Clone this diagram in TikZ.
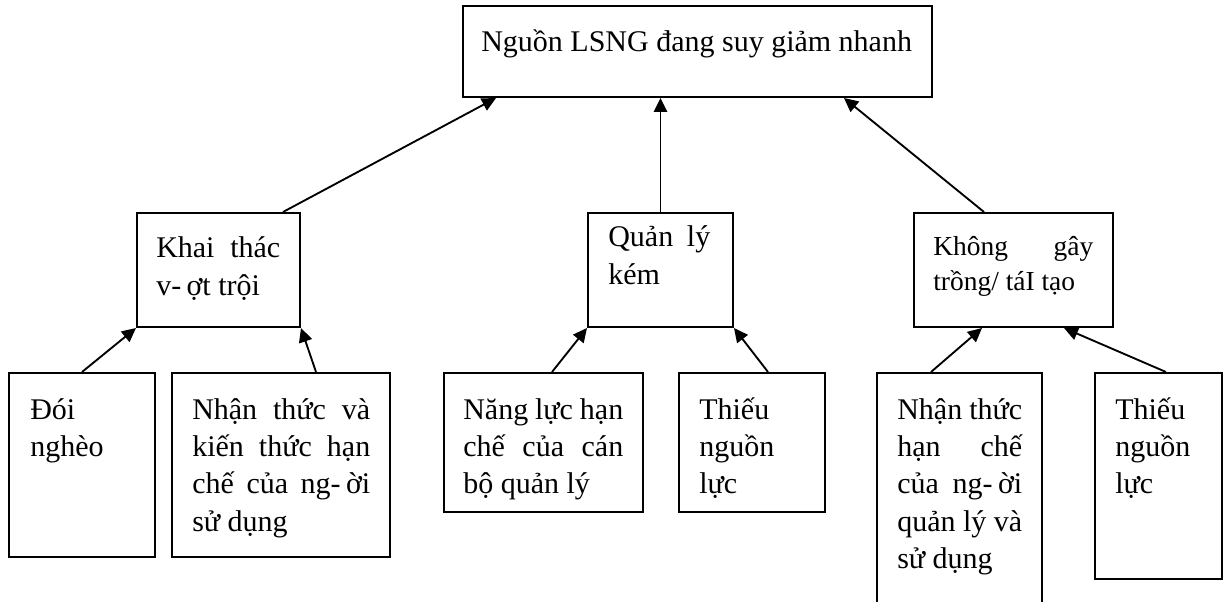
\documentclass[tikz,border=0pt]{standalone}
\usepackage{fontspec}
\setmainfont{Liberation Serif}
\usetikzlibrary{arrows.meta,fit}
\newcommand{\mlines}[1]{\vtop{\baselineskip=28.1pt\lineskiplimit=-100pt\lineskip=0pt #1}}
\newcommand{\mlinesS}[1]{\vtop{\baselineskip=26.25pt\lineskiplimit=-100pt\lineskip=0pt #1}}
\newcommand{\spline}[2]{\hbox{\makebox[#1][s]{#2}}}
\newcommand{\oneline}[1]{\hbox{#1}}
\begin{document}
\begin{tikzpicture}[x=0.75pt,y=-0.75pt,
  box/.style={draw=black,line width=1.5pt,inner sep=0pt,fill=none},
  txt/.style={anchor=base west,inner sep=0pt,font=\fontsize{22.5}{28.1}\selectfont},
  txts/.style={anchor=base west,inner sep=0pt,font=\fontsize{20.6}{26.25}\selectfont},
  arr/.style={line width=1.4pt,-{Triangle[length=10.5pt,width=10pt]}}]
\useasboundingbox (0,0) rectangle (1225,602);
\clip (0,0) rectangle (1225,602);
\fill[white] (0,0) rectangle (1225,602);
% boxes
\node[box,fit={(463,6) (932,97)}] (top) {};
\node[box,fit={(137,213) (300,327)}] (khai) {};
\node[box,fit={(588,213) (733,327)}] (quan) {};
\node[box,fit={(914,213) (1113,327)}] (khong) {};
\node[box,fit={(9,373) (155,557)}] (doi) {};
\node[box,fit={(172,373) (390,557)}] (nhanL) {};
\node[box,fit={(444,373) (643,512)}] (nang) {};
\node[box,fit={(679,373) (825,512)}] (thieuL) {};
\node[box,fit={(877,373) (1042,640)}] (nhanR) {};
\node[box,fit={(1095,373) (1222,579)}] (thieuR) {};
% texts
\node[txt] (ttop) at (481,52) {Nguồn LSNG đang suy giảm nhanh};
\node[txt] (tkhai) at (156,258) {\mlines{\spline{93pt}{Khai thác}\oneline{v-\kern4pt ợt trội}}};
\node[txt] (tquan) at (608,247) {\mlines{\spline{76.5pt}{Quản lý}\oneline{kém}}};
\node[txts] (tkhong) at (933,256) {\mlinesS{\spline{120pt}{Không gây}\oneline{trồng/ táI tạo}}};
\node[txt] (tdoi) at (30,419) {\mlines{\oneline{Đói}\oneline{nghèo}}};
\node[txt] (tnhanL) at (192,419) {\mlines{\spline{133.5pt}{Nhận thức và}\spline{133.5pt}{kiến thức hạn}\spline{133.5pt}{chế của ng-\kern4pt ời}\oneline{sử dụng}}};
\node[txt] (tnang) at (463,419) {\mlines{\spline{120pt}{Năng lực hạn}\spline{120pt}{chế của cán}\oneline{bộ quản lý}}};
\node[txt] (tthieuL) at (699,419) {\mlines{\oneline{Thiếu}\oneline{nguồn}\oneline{lực}}};
\node[txt] (tnhanR) at (897,419) {\mlines{\spline{93.75pt}{Nhận thức}\spline{93.75pt}{hạn chế}\spline{93.75pt}{của ng-\kern4pt ời}\spline{93.75pt}{quản lý và}\oneline{sử dụng}}};
\node[txt] (tthieuR) at (1115,419) {\mlines{\oneline{Thiếu}\oneline{nguồn}\oneline{lực}}};
% arrows
\draw[arr] ([xshift=-13.5pt]khai.north east) -- ([xshift=25.5pt]top.south west);
\draw[arr] (quan.north) -- (quan.north |- top.south);
\draw[arr] ([xshift=53.25pt]khong.north west) -- ([xshift=-66.75pt]top.south east);
\draw[arr] (doi.north) -- (khai.south west);
\draw[arr] ([xshift=108.75pt]nhanL.north west) -- (khai.south east);
\draw[arr] ([xshift=81.75pt]nang.north west) -- (quan.south west);
\draw[arr] ([xshift=67.5pt]thieuL.north west) -- (quan.south east);
\draw[arr] ([xshift=41.25pt]nhanR.north west) -- ([xshift=51.75pt]khong.south west);
\draw[arr] ([xshift=54pt]thieuR.north west) -- ([xshift=-37.5pt]khong.south east);
\end{tikzpicture}
\end{document}
